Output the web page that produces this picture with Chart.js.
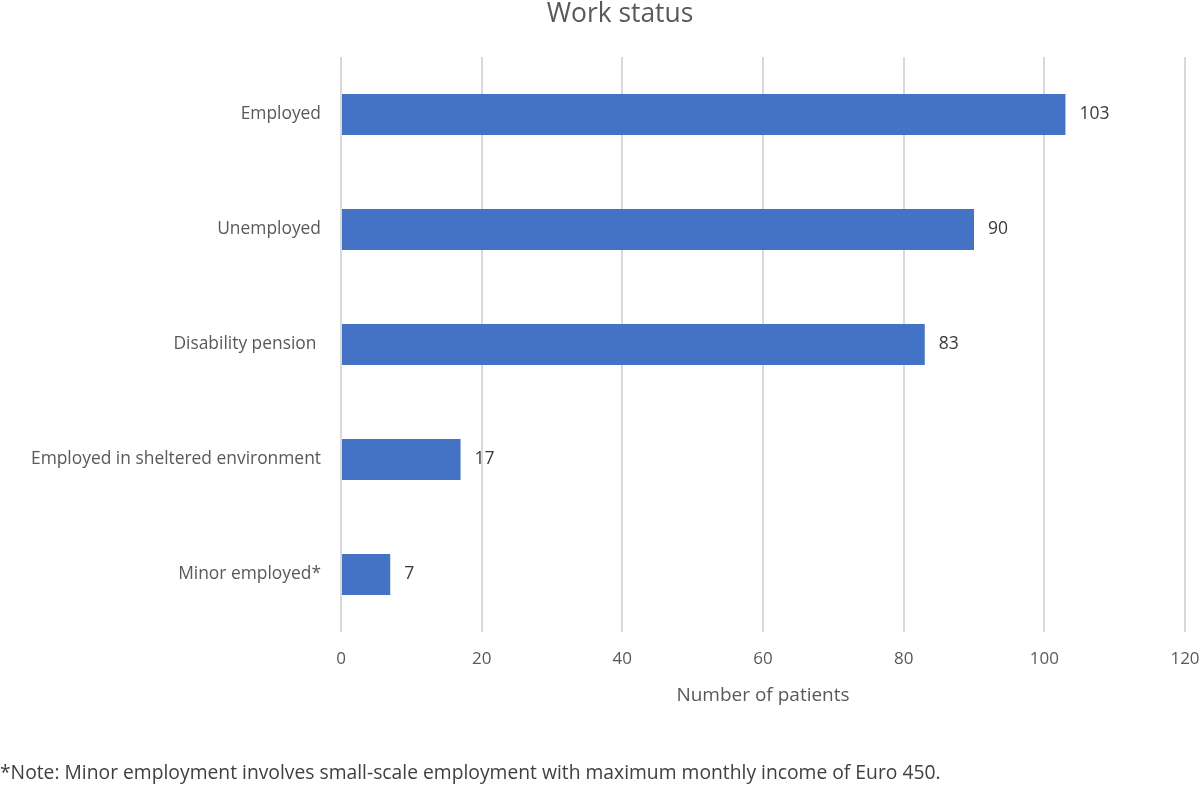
<!DOCTYPE html>
<html>
<head>
<meta charset="utf-8">
<script src="https://cdn.jsdelivr.net/npm/chart.js@4/dist/chart.umd.min.js"></script>
<style>
  html, body { margin: 0; padding: 0; background: #fff; }
  #wrap { width: 1200px; height: 787px; }
</style>
</head>
<body>
<div id="wrap"><canvas id="workChart"></canvas></div>
<script>
const categories = ['Employed', 'Unemployed', 'Disability pension ', 'Employed in sheltered environment', 'Minor employed*'];
const patients = [103, 90, 83, 17, 7];
const xTicks = [0, 20, 40, 60, 80, 100, 120];
const chartTitle = 'Work status';
const footnote = '*Note: Minor employment involves small-scale employment with maximum monthly income of Euro 450.';

const FONT = "'Open Sans', sans-serif";

// value labels at the end of each bar
const barLabels = {
  id: 'barLabels',
  afterDatasetsDraw(chart) {
    const ctx = chart.ctx;
    const meta = chart.getDatasetMeta(0);
    ctx.save();
    ctx.font = '17.5px ' + FONT;
    ctx.fillStyle = '#3a3a3a';
    ctx.textAlign = 'left';
    ctx.textBaseline = 'middle';
    meta.data.forEach((bar, i) => {
      ctx.fillText(String(patients[i]), bar.x + 14, bar.y);
    });
    ctx.restore();
  }
};

// title sits a little right of the page centre, as in the original
const offsetTitle = {
  id: 'offsetTitle',
  afterDraw(chart) {
    const ctx = chart.ctx;
    ctx.save();
    ctx.font = '26.4px ' + FONT;
    ctx.fillStyle = '#595959';
    ctx.textAlign = 'center';
    ctx.textBaseline = 'middle';
    ctx.fillText(chartTitle, 620, 14);
    ctx.restore();
  }
};

const ctx = document.getElementById('workChart').getContext('2d');
const workChart = new Chart(ctx, {
  type: 'bar',
  data: {
    labels: categories,
    datasets: [{
      label: 'Number of patients',
      data: patients,
      backgroundColor: '#4472C4',
      borderWidth: 0,
      barPercentage: 0.355,
      categoryPercentage: 1
    }]
  },
  options: {
    indexAxis: 'y',
    responsive: true,
    maintainAspectRatio: false,
    animation: false,
    layout: { padding: { top: 57, right: 0, bottom: 0, left: 0 } },
    plugins: {
      legend: { display: false },
      tooltip: { enabled: false },
      title: { display: false },
      subtitle: {
        display: true,
        text: footnote,
        position: 'bottom',
        align: 'start',
        color: '#404040',
        font: { family: FONT, size: 19.3, weight: 'normal' },
        padding: { top: 0, bottom: 2.4 }
      }
    },
    scales: {
      x: {
        min: 0,
        max: 120,
        afterBuildTicks(scale) {
          scale.ticks = xTicks.map(v => ({ value: v }));
        },
        afterFit(scale) {
          scale.paddingRight = 15;
        },
        grid: { color: '#d9d9d9', lineWidth: 2, drawTicks: false },
        border: { display: false },
        ticks: {
          color: '#595959',
          font: { family: FONT, size: 17 },
          padding: 17
        },
        title: {
          display: true,
          text: 'Number of patients',
          color: '#595959',
          font: { family: FONT, size: 19, lineHeight: 0.95 },
          padding: { top: 0, bottom: 57 }
        }
      },
      y: {
        grid: { display: false, drawTicks: false },
        border: { display: false },
        ticks: {
          color: '#595959',
          font: { family: FONT, size: 17.4 },
          padding: 20
        },
        afterFit(scale) {
          scale.width = 341;
        }
      }
    }
  },
  plugins: [barLabels, offsetTitle]
});
</script>
</body>
</html>
